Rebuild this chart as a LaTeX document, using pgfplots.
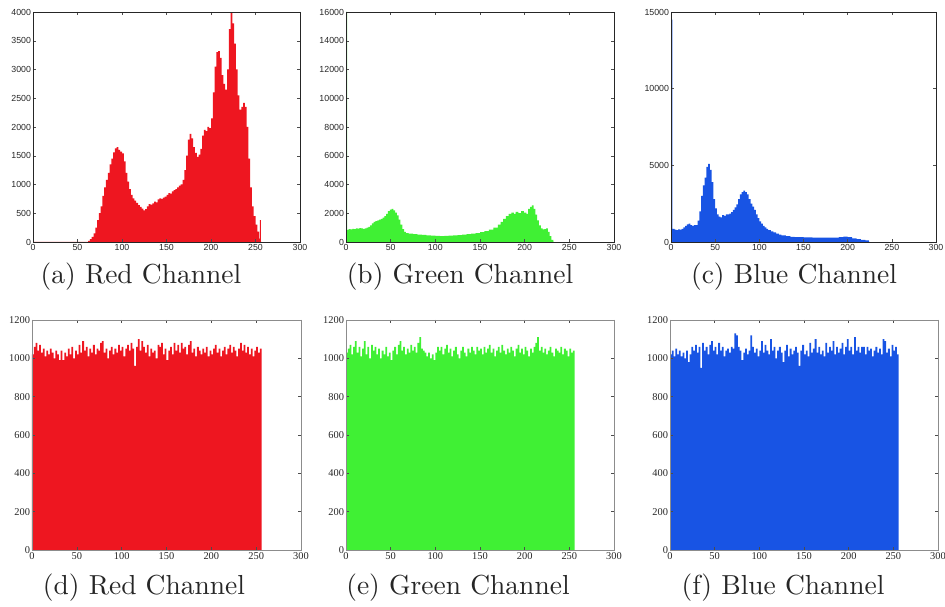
\documentclass[border=0pt]{standalone}
\usepackage{fontspec}
\newfontfamily\arialf{Liberation Sans}
\newfontfamily\timesf{Liberation Serif}
\newfontfamily\capf{lmroman10-regular.otf}
\usepackage{pgfplots}
\pgfplotsset{compat=1.18}
\definecolor{cR}{RGB}{238,22,32}
\definecolor{cG}{RGB}{64,240,52}
\definecolor{cB}{RGB}{24,84,228}
\pgfplotsset{
  hist/.style={scale only axis, anchor=south west, xmin=0, xmax=300, ymin=0,
    xtick={0,50,...,300}, tick align=inside, major tick length=3pt,
    axis on top, scaled ticks=false, /pgf/number format/1000 sep={},
    /pgf/number format/assume math mode=true,
    tick style={black!70, line width=0.4pt},
    xticklabel style={yshift=1pt}, yticklabel style={xshift=1.5pt}},
  toprow/.style={hist, height=230pt, axis line style={black!85, line width=0.8pt},
    ticklabel style={font=\arialf\fontsize{8.8}{9}\selectfont, black!85}},
  botrow/.style={hist, height=230pt, ymax=1200, ytick={0,200,...,1200},
    axis line style={black!45, line width=0.5pt},
    ticklabel style={font=\timesf\fontsize{10.4}{11}\selectfont, black!85}},
}
\tikzset{captext/.style={font=\capf\fontsize{27.5}{30}\selectfont, text=black!85}}
\begin{document}
\begin{tikzpicture}
\path[use as bounding box] (0,0) rectangle (945pt,607pt);
% (a)
\begin{axis}[toprow, at={(33pt,365pt)}, width=267pt, ymax=4000, ytick={0,500,...,4000}]
\addplot[const plot mark left, fill=cR, draw=none] coordinates {
(0,0) (60,0) (62,20) (64,50) (66,90) (68,150) (70,250) (72,380) (74,500) (76,620) (78,800) (80,950)
(82,1080) (84,1200) (86,1350) (88,1450) (90,1560) (92,1630) (94,1650) (96,1600) (98,1570) (100,1540)
(102,1400) (104,1200) (106,1050) (108,920) (110,820) (112,760) (114,720) (116,680) (118,640) (120,610)
(122,580) (124,550) (126,570) (128,620) (130,660) (132,650) (134,670) (136,700) (138,690) (140,740)
(142,760) (144,750) (146,770) (148,790) (150,820) (152,850) (154,840) (156,880) (158,900) (160,920)
(162,950) (164,980) (166,1000) (168,1080) (170,1250) (172,1500) (174,1780) (176,1880) (178,1800)
(180,1650) (182,1550) (184,1480) (186,1520) (188,1620) (190,1850) (192,1950) (194,1930) (196,2000)
(198,1980) (200,2150) (202,2600) (204,3050) (206,3300) (208,3320) (210,3200) (212,2900) (214,2750)
(216,2650) (218,3000) (220,3700) (222,3980) (224,3800) (226,3450) (228,3000) (230,2550) (232,2300)
(234,2350) (236,2420) (238,2350) (240,2000) (242,1450) (244,950) (246,620) (248,450) (250,300)
(252,180) (254,60) (255,380) (256,0) (257,0)} \closedcycle;
\end{axis}
% (b)
\begin{axis}[toprow, at={(346pt,365pt)}, width=268pt, ymax=16000, ytick={0,2000,...,16000}]
\addplot[const plot mark left, fill=cG, draw=none] coordinates {
(0,16000) (1.2,850) (3,900) (5,870) (7,920) (9,900) (11,950) (13,930) (15,960) (17,940) (19,920)
(21,950) (23,1000) (25,1050) (27,1150) (29,1300) (31,1400) (33,1450) (35,1500) (37,1550) (39,1600)
(41,1700) (43,1800) (45,1950) (47,2150) (49,2250) (51,2300) (53,2200) (55,2050) (57,1850) (59,1550)
(61,1200) (63,900) (65,700) (67,620) (70,580) (75,550) (80,520) (85,490) (90,460) (95,440) (100,420)
(105,410) (110,420) (115,440) (120,460) (125,480) (130,510) (135,540) (140,580) (145,620) (150,680)
(155,760) (160,860) (165,1000) (170,1200) (173,1400) (176,1600) (179,1800) (182,1950) (185,2050)
(188,1950) (190,2100) (193,2000) (196,2150) (199,2050) (202,1950) (204,2300) (206,2450) (208,2550)
(210,2300) (212,1900) (214,1500) (216,1150) (218,950) (220,880) (222,900) (224,950) (226,700)
(228,400) (230,150) (232,0) (233,0)} \closedcycle;
\end{axis}
% (c)
\begin{axis}[toprow, at={(671pt,365pt)}, width=265pt, ymax=15000, ytick={0,5000,10000,15000}]
\addplot[const plot mark left, fill=cB, draw=none] coordinates {
(0,14500) (1.5,850) (4,800) (6,780) (8,820) (10,800) (12,850) (14,950) (16,1050) (18,1150) (20,1200)
(22,1100) (24,1050) (26,1100) (28,1100) (30,1400) (32,2000) (34,3000) (36,3700) (38,4200) (40,4900)
(42,5100) (44,4700) (46,3900) (48,2800) (50,2200) (52,1800) (54,1650) (56,1600) (58,1750) (60,1700)
(62,1800) (64,1800) (66,1850) (68,1950) (70,2100) (72,2250) (74,2450) (76,2800) (78,3100) (80,3250)
(82,3350) (84,3250) (86,3100) (88,2800) (90,2500) (92,2300) (94,2100) (96,1800) (98,1550) (100,1350)
(102,1200) (104,1050) (106,950) (108,850) (110,780) (113,700) (116,620) (119,550) (122,480) (125,430)
(130,380) (135,340) (140,320) (150,300) (160,290) (170,280) (180,290) (190,320) (195,350) (200,310)
(205,230) (210,180) (215,140) (220,110) (224,0) (225,0)} \closedcycle;
\end{axis}
% (d)
\begin{axis}[botrow, at={(32pt,57pt)}, width=269pt]
\addplot[const plot mark left, fill=cR, draw=none] coordinates {
(0,1020) (2,1060) (4,1080) (6,1040) (8,1070) (10,1030) (12,1050) (14,1010) (16,1040) (18,1020)
(20,1050) (22,1030) (24,1000) (26,1040) (28,1020) (30,990) (32,1040) (34,990) (36,1030) (38,1010)
(40,1050) (42,1020) (44,1060) (46,1000) (48,1040) (50,1020) (52,1070) (54,1030) (56,1090) (58,1040)
(60,1060) (62,1010) (64,1050) (66,1030) (68,1070) (70,1020) (72,1050) (74,1040) (76,1080) (78,1090)
(80,1030) (82,1050) (84,1000) (86,1040) (88,1060) (90,1020) (92,1050) (94,1030) (96,1070) (98,1040)
(100,1060) (102,1010) (104,1050) (106,1070) (108,1040) (110,1080) (112,1050) (114,960) (116,1060)
(118,1100) (120,1040) (122,1090) (124,1060) (126,1030) (128,1070) (130,1010) (132,1050) (134,1030)
(136,1040) (138,1000) (140,1070) (142,1060) (144,1080) (146,1020) (148,1050) (150,990) (152,1040)
(154,1060) (156,1020) (158,1080) (160,1040) (162,1070) (164,1030) (166,1080) (168,1050) (170,1060)
(172,1020) (174,1070) (176,1090) (178,1030) (180,1050) (182,1010) (184,1060) (186,1040) (188,1020)
(190,1050) (192,1030) (194,1060) (196,1010) (198,1040) (200,1020) (202,1050) (204,1070) (206,1030)
(208,1050) (210,1010) (212,1040) (214,1060) (216,1020) (218,1050) (220,1070) (222,1030) (224,1060)
(226,1040) (228,1010) (230,1050) (232,1080) (234,1040) (236,1070) (238,1030) (240,1060) (242,1020)
(244,1050) (246,1010) (248,1040) (250,1060) (252,1030) (254,1050) (256,1050)} \closedcycle;
\end{axis}
% (e)
\begin{axis}[botrow, at={(346pt,57pt)}, width=268pt]
\addplot[const plot mark left, fill=cG, draw=none] coordinates {
(0,1030) (2,1050) (4,1070) (6,1020) (8,1060) (10,1090) (12,1030) (14,1060) (16,1010) (18,1050)
(20,1090) (22,1020) (24,1060) (26,1000) (28,1070) (30,1040) (32,1060) (34,1020) (36,1050) (38,1000)
(40,1040) (42,1020) (44,1060) (46,1010) (48,1030) (50,990) (52,1040) (54,1060) (56,1020) (58,1070)
(60,1090) (62,1040) (64,1060) (66,1020) (68,1050) (70,1030) (72,1070) (74,1040) (76,1060) (78,1030)
(80,1080) (82,1110) (84,1050) (86,1040) (88,1030) (90,1010) (92,1030) (94,1000) (96,1020) (98,990)
(100,1030) (102,1060) (104,1040) (106,1060) (108,1020) (110,1050) (112,1070) (114,1030) (116,1050)
(118,1010) (120,1040) (122,1060) (124,1020) (126,1000) (128,1040) (130,1060) (132,1030) (134,1010)
(136,1050) (138,1030) (140,1060) (142,1040) (144,1020) (146,1060) (148,1040) (150,1050) (152,1020)
(154,1060) (156,1030) (158,1050) (160,1070) (162,1030) (164,1050) (166,1010) (168,1040) (170,1060)
(172,1030) (174,1070) (176,1040) (178,1020) (180,1050) (182,1030) (184,1060) (186,1040) (188,1010)
(190,1050) (192,1070) (194,1030) (196,1050) (198,1020) (200,1060) (202,1040) (204,1010) (206,1050)
(208,1030) (210,1060) (212,1080) (214,1110) (216,1040) (218,1060) (220,1030) (222,1050) (224,1020)
(226,1040) (228,1060) (230,1030) (232,1010) (234,1050) (236,1040) (238,1030) (240,1060) (242,1020)
(244,1050) (246,1040) (248,1010) (250,1050) (252,1030) (254,1040) (256,1040)} \closedcycle;
\end{axis}
% (f)
\begin{axis}[botrow, at={(670pt,57pt)}, width=268pt]
\addplot[const plot mark left, fill=cB, draw=none] coordinates {
(0,1020) (2,1040) (4,1010) (6,1050) (8,1020) (10,1040) (12,1010) (14,1030) (16,1000) (18,1040)
(20,980) (22,1020) (24,1060) (26,1040) (28,1070) (30,1030) (32,1060) (34,950) (36,1080) (38,1040)
(40,1060) (42,1020) (44,1070) (46,1090) (48,1040) (50,1060) (52,1020) (54,1080) (56,1040) (58,1060)
(60,1010) (62,1040) (64,1050) (66,1030) (68,1060) (70,1050) (72,1130) (74,1120) (76,1060) (78,1040)
(80,990) (82,1030) (84,1050) (86,1020) (88,1040) (90,1120) (92,1060) (94,1030) (96,1050) (98,1010)
(100,1040) (102,1090) (104,1030) (106,1070) (108,1040) (110,1020) (112,1100) (114,1040) (116,1060)
(118,1000) (120,1040) (122,1060) (124,1030) (126,980) (128,1040) (130,1070) (132,1010) (134,1050)
(136,1020) (138,1040) (140,1060) (142,1030) (144,960) (146,1040) (148,1070) (150,1020) (152,1040)
(154,1010) (156,1080) (158,1030) (160,1050) (162,1100) (164,1030) (166,1060) (168,1020) (170,1040)
(172,1010) (174,1080) (176,1030) (178,1060) (180,1040) (182,1090) (184,1020) (186,1060) (188,1030)
(190,1050) (192,1080) (194,1020) (196,1060) (198,1100) (200,1040) (202,1060) (204,1020) (206,1110)
(208,1040) (210,1060) (212,1030) (214,1060) (216,1060) (218,1020) (220,1060) (222,1040) (224,1050)
(226,1010) (228,1040) (230,1060) (232,1030) (234,1050) (236,1020) (238,1100) (240,1090) (242,1030)
(244,1050) (246,1010) (248,1070) (250,1040) (252,1060) (254,1020) (256,1020)} \closedcycle;
\end{axis}
\node[captext] at (141pt,330pt) {(a) Red Channel};
\node[captext] at (460pt,330pt) {(b) Green Channel};
\node[captext] at (794pt,330pt) {(c) Blue Channel};
\node[captext] at (144pt,19pt) {(d) Red Channel};
\node[captext] at (458pt,19pt) {(e) Green Channel};
\node[captext] at (783pt,19pt) {(f) Blue Channel};
\end{tikzpicture}
\end{document}
